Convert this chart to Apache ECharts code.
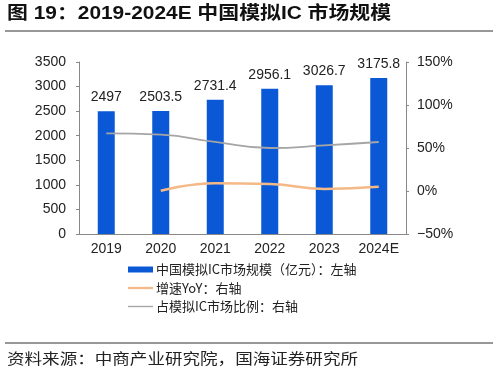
<!DOCTYPE html>
<html><head><meta charset="utf-8">
<script src="https://cdn.jsdelivr.net/npm/echarts@6/dist/echarts.min.js"></script>
<style>html,body{margin:0;padding:0;background:#fff}#c{width:498px;height:374px}</style>
</head><body><div id="c"></div>
<script>
const categories = ['2019','2020','2021','2022','2023','2024E'];
const marketSize = [2497, 2503.5, 2731.4, 2956.1, 3026.7, 3175.8];
const yoy = [null, 0.3, 9.1, 8.2, 2.4, 4.9];
const share = [67, 65.5, 57, 50, 53, 57];
const seriesNames = ['中国模拟IC市场规模（亿元）：左轴', '增速YoY：右轴', '占模拟IC市场比例：右轴'];
const titleText = '图 19：2019-2024E 中国模拟IC 市场规模';
const sourceText = '资料来源：中商产业研究院，国海证券研究所';

const font = '"Liberation Sans", Arial, "Noto Sans CJK SC", sans-serif';
const cjk = '"Noto Sans CJK SC", sans-serif';
const chart = echarts.init(document.getElementById('c'), null, {renderer:'canvas'});
chart.setOption({
  animation:false,
  textStyle:{fontFamily:font},
  graphic:[
    {type:'text', x:7, y:14, scaleX:1.16,
     style:{text:titleText, fontSize:18, fontWeight:'bold', fill:'#111', fontFamily:font, verticalAlign:'middle', align:'left'}},
    {type:'line', shape:{x1:5,y1:31,x2:493,y2:31}, style:{stroke:'#333', lineWidth:1.2}},
    {type:'line', shape:{x1:5,y1:343,x2:493,y2:343}, style:{stroke:'#333', lineWidth:1.2}},
    {type:'text', x:7, y:358, scaleX:1.17,
     style:{text:sourceText, fontSize:15, fill:'#222', fontFamily:cjk, verticalAlign:'middle', align:'left'}}
  ],
  legend:{
    orient:'vertical', left:128, top:263, itemGap:5.5, padding:0,
    itemWidth:25, itemHeight:6,
    textStyle:{fontSize:13, color:'#222', fontFamily:cjk, padding:[0,0,0,-2]},
    data:[
      {name:seriesNames[0], icon:'rect'},
      {name:seriesNames[1], icon:'path://M0,0 L24,0 L24,2.2 L0,2.2 Z'},
      {name:seriesNames[2], icon:'path://M0,0 L24,0 L24,1.3 L0,1.3 Z'}
    ]
  },
  grid:{left:79, right:92, top:62, bottom:140},
  xAxis:{
    type:'category', data:categories,
    axisLine:{lineStyle:{color:'#888'}},
    axisTick:{show:false},
    axisLabel:{fontSize:14, color:'#222', margin:8}
  },
  yAxis:[
    {type:'value', min:0, max:3500, interval:500,
     axisLine:{show:true, lineStyle:{color:'#888'}},
     axisTick:{show:true, length:3, lineStyle:{color:'#888'}},
     splitLine:{show:false},
     axisLabel:{fontSize:14, color:'#222', margin:13, formatter:v=>String(v)}},
    {type:'value', min:-50, max:150, interval:50,
     axisLine:{show:true, lineStyle:{color:'#888'}},
     axisTick:{show:true, length:3, lineStyle:{color:'#888'}},
     splitLine:{show:false},
     axisLabel:{fontSize:14, color:'#222', margin:11, formatter:v=>(v<0?'\u2212'+Math.abs(v):v)+'%'}}
  ],
  series:[
    {name:seriesNames[0], type:'bar', data:marketSize, barWidth:17,
     itemStyle:{color:'#0A58D6'},
     label:{show:true, position:'top', distance:7, fontSize:14, color:'#222'}},
    {name:seriesNames[1], type:'line', yAxisIndex:1, data:yoy, smooth:true, symbol:'none',
     lineStyle:{color:'#F5B887', width:2.5}, itemStyle:{color:'#F5B887'}},
    {name:seriesNames[2], type:'line', yAxisIndex:1, data:share, smooth:true, symbol:'none',
     lineStyle:{color:'#A5A5A5', width:1.8}, itemStyle:{color:'#A5A5A5'}}
  ]
});
</script></body></html>
